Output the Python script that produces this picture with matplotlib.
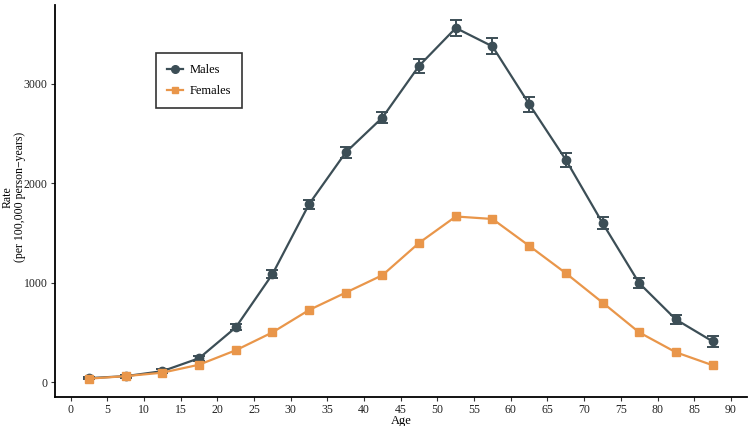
import matplotlib
matplotlib.use("Agg")
import matplotlib.pyplot as plt
from matplotlib.lines import Line2D

# ================= DATA =================
ages = [2.5, 7.5, 12.5, 17.5, 22.5, 27.5, 32.5, 37.5, 42.5,
        47.5, 52.5, 57.5, 62.5, 67.5, 72.5, 77.5, 82.5, 87.5]

males = [40, 60, 110, 240, 550, 1085, 1790, 2310, 2660,
         3180, 3560, 3375, 2795, 2235, 1600, 995, 630, 410]
males_err = [12, 14, 18, 25, 30, 40, 45, 55, 60,
             70, 80, 80, 75, 70, 60, 50, 45, 55]

females = [35, 60, 95, 175, 320, 500, 725, 900, 1075,
           1400, 1665, 1640, 1370, 1095, 800, 500, 300, 170]
females_err = [8, 10, 12, 15, 18, 20, 22, 25, 28,
               30, 32, 32, 30, 28, 25, 20, 18, 15]

x_ticks = list(range(0, 95, 5))
y_ticks = [0, 1000, 2000, 3000]

MALE_COLOR = "#3c4e56"
FEMALE_COLOR = "#e9964a"
# ========================================

plt.rcParams["font.family"] = ["Liberation Serif", "DejaVu Serif"]

fig = plt.figure(figsize=(7.5, 4.26), dpi=100)
ax = fig.add_axes([0.073, 0.068, 0.923, 0.92])

ax.errorbar(ages, males, yerr=males_err, color=MALE_COLOR, marker="o",
            markersize=6, linewidth=1.6, capsize=4, elinewidth=1.4,
            capthick=1.4)
ax.errorbar(ages, females, yerr=females_err, color=FEMALE_COLOR, marker="s",
            markersize=5.5, linewidth=1.6, capsize=3, elinewidth=1.0,
            capthick=1.0)

ax.set_xlim(-2.18, 92.2)
ax.set_ylim(-150, 3790)
ax.set_xticks(x_ticks)
ax.set_yticks(y_ticks)

for side in ["top", "right"]:
    ax.spines[side].set_visible(False)
for side in ["left", "bottom"]:
    ax.spines[side].set_linewidth(1.3)
    ax.spines[side].set_color("black")

ax.tick_params(axis="both", direction="out", length=3, width=0.8, pad=2,
               labelsize=8.5, colors="#333333", labelcolor="#222222")

ax.set_xlabel("Age", fontsize=9, labelpad=-1)
ax.set_ylabel("Rate\n(per 100,000 person−years)", fontsize=8.5,
              linespacing=1.05)
ax.yaxis.set_label_coords(-0.042, 0.51)

handles = [
    Line2D([], [], color=MALE_COLOR, marker="o", markersize=5.5, linewidth=1.6),
    Line2D([], [], color=FEMALE_COLOR, marker="s", markersize=5, linewidth=1.6),
]
leg = ax.legend(handles, ["Males", "Females"], loc="upper left",
                bbox_to_anchor=(0.146, 0.878), borderaxespad=0,
                frameon=True, fancybox=False, fontsize=9,
                handlelength=1.3, handletextpad=0.5, borderpad=0.9,
                labelspacing=0.7, edgecolor="black")
leg.get_frame().set_linewidth(1.2)

fig.savefig("out.png", dpi=100)
plt.close(fig)
